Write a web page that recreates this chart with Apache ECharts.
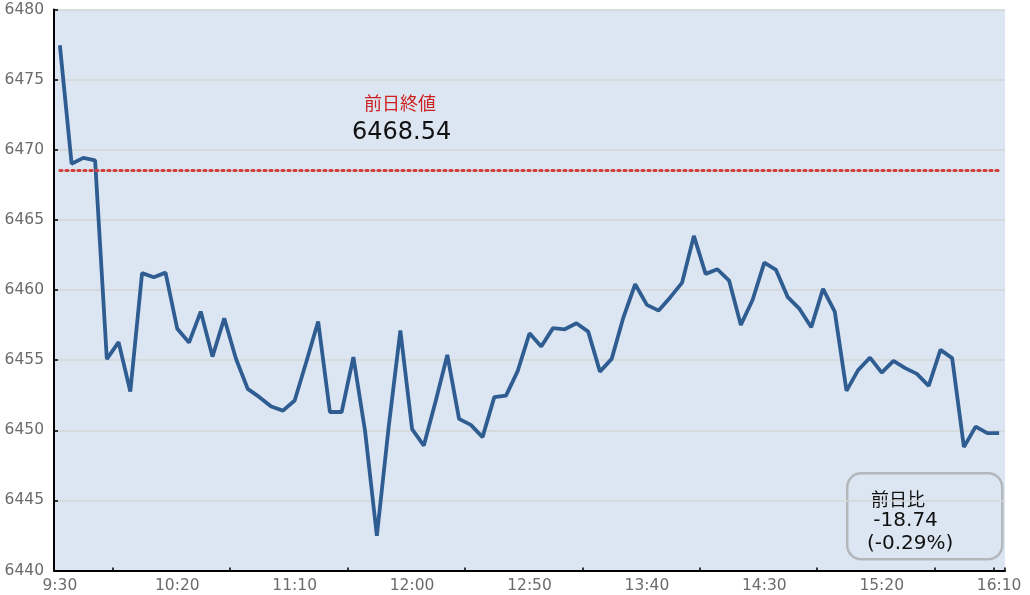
<!DOCTYPE html>
<html>
<head>
<meta charset="utf-8">
<script src="https://cdn.jsdelivr.net/npm/echarts@6/dist/echarts.min.js"></script>
<style>
html,body{margin:0;padding:0;background:#fff;}
#chart{width:1030px;height:595px;}
</style>
</head>
<body>
<div id="chart"></div>
<script>
const categories = [
'9:30','9:35','9:40','9:45','9:50','9:55','10:00','10:05','10:10','10:15',
'10:20','10:25','10:30','10:35','10:40','10:45','10:50','10:55','11:00','11:05',
'11:10','11:15','11:20','11:25','11:30','11:35','11:40','11:45','11:50','11:55',
'12:00','12:05','12:10','12:15','12:20','12:25','12:30','12:35','12:40','12:45',
'12:50','12:55','13:00','13:05','13:10','13:15','13:20','13:25','13:30','13:35',
'13:40','13:45','13:50','13:55','14:00','14:05','14:10','14:15','14:20','14:25',
'14:30','14:35','14:40','14:45','14:50','14:55','15:00','15:05','15:10','15:15',
'15:20','15:25','15:30','15:35','15:40','15:45','15:50','15:55','16:00','16:05',
'16:10'
];
const prices = [
6477.45, 6469.00, 6469.42, 6469.25, 6455.07, 6456.28, 6452.76, 6461.20, 6460.91, 6461.24,
6457.23, 6456.25, 6458.46, 6455.25, 6457.99, 6455.10, 6452.95, 6452.36, 6451.69, 6451.40,
6452.12, 6454.90, 6457.75, 6451.30, 6451.30, 6455.22, 6449.91, 6442.47, 6450.20, 6457.11,
6450.08, 6448.91, 6452.05, 6455.37, 6450.81, 6450.38, 6449.51, 6452.36, 6452.47, 6454.23,
6456.92, 6455.97, 6457.28, 6457.20, 6457.63, 6457.03, 6454.18, 6455.09, 6458.05, 6460.41,
6458.94, 6458.53, 6459.49, 6460.53, 6463.86, 6461.15, 6461.48, 6460.67, 6457.51, 6459.29,
6461.95, 6461.43, 6459.49, 6458.65, 6457.35, 6460.08, 6458.46, 6452.81, 6454.30, 6455.18,
6454.11, 6454.95, 6454.43, 6454.02, 6453.16, 6455.73, 6455.14, 6448.80, 6450.26, 6449.80,
6449.80
];
const prevClose = 6468.54;
const prevCloseTitle = '前日終値';
const prevCloseText = '6468.54';
const diffTitle = '前日比';
const diffValue = ' -18.74';
const diffPct = '(-0.29%)';
const yTicks = [6440, 6445, 6450, 6455, 6460, 6465, 6470, 6475, 6480];

const numFont = "'DejaVu Sans', 'Noto Sans CJK JP', sans-serif";
const chart = echarts.init(document.getElementById('chart'), null, {renderer: 'canvas'});
chart.setOption({
  animation: false,
  backgroundColor: '#ffffff',
  grid: {
    left: 54, right: 25, top: 9.5, bottom: 24.5,
    containLabel: false, outerBoundsMode: 'none',
    show: true, backgroundColor: '#dce6f2', borderWidth: 0
  },
  xAxis: {
    type: 'category',
    data: categories,
    boundaryGap: true,
    axisLine: {show: true, lineStyle: {color: '#000', width: 2}},
    axisTick: {
      show: true, inside: true, length: 3, alignWithLabel: false,
      lineStyle: {color: '#000', width: 1.5},
      interval: function (i) { return i % 10 === 5 || i === 80; }
    },
    axisLabel: {
      interval: 9, color: '#6b6b6b', fontSize: 15.5, fontFamily: numFont, margin: 8
    },
    splitLine: {show: false}
  },
  yAxis: {
    type: 'value',
    min: yTicks[0], max: yTicks[yTicks.length - 1], interval: 5,
    axisLine: {show: true, lineStyle: {color: '#000', width: 2}},
    axisTick: {show: true, inside: true, length: 4, lineStyle: {color: '#000', width: 1.5}},
    axisLabel: {color: '#6b6b6b', fontSize: 15.5, fontFamily: numFont, margin: 10,
      formatter: function (v) { return String(v); }},
    splitLine: {show: true, lineStyle: {color: '#d6d6d6', width: 1.5}}
  },
  series: [{
    type: 'line',
    data: prices,
    symbol: 'none',
    lineStyle: {color: '#2f5d92', width: 3.8},
    markLine: {
      silent: true,
      symbol: ['none', 'none'],
      label: {show: false},
      lineStyle: {color: '#d0413c', width: 3, type: [2.2, 3.8], cap: 'round'},
      data: [[{coord: [0, prevClose]}, {coord: [categories.length - 1, prevClose]}]]
    }
  }],
  graphic: [
    {type: 'text', left: 364, top: 94, style: {text: prevCloseTitle, fill: '#cc2222', font: "18px 'Noto Sans CJK JP', sans-serif"}},
    {type: 'text', left: 352, top: 121, style: {text: prevCloseText, fill: '#111111', font: "24px " + numFont}},
    {type: 'rect', left: 846, top: 472, shape: {width: 155, height: 86, r: 14},
      style: {fill: 'rgba(0,0,0,0)', stroke: '#b3b7bb', lineWidth: 2.5}},
    {type: 'text', left: 871, top: 490, style: {text: diffTitle, fill: '#111111', font: "18px 'Noto Sans CJK JP', sans-serif"}},
    {type: 'text', left: 867, top: 511, style: {text: diffValue, fill: '#111111', font: "20px " + numFont}},
    {type: 'text', left: 867, top: 534, style: {text: diffPct, fill: '#111111', font: "20px " + numFont}}
  ]
});
</script>
</body>
</html>
